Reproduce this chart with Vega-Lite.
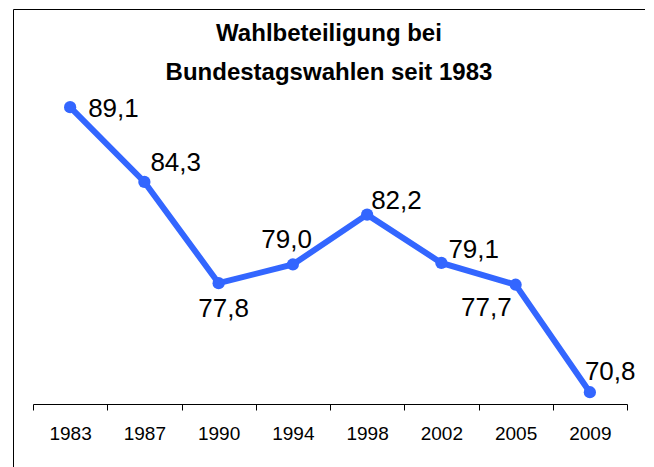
{
  "$schema": "https://vega.github.io/schema/vega-lite/v6.json",
  "autosize": "none",
  "padding": {"left": 13, "top": 9, "right": 0, "bottom": 0},
  "width": 632,
  "height": 458,
  "background": "white",
  "config": {
    "view": {"stroke": "#000000", "strokeWidth": 1},
    "font": "Liberation Sans",
    "locale": {"number": {"decimal": ",", "thousands": ".", "grouping": [3], "currency": ["", " €"]}}
  },
  "title": {
    "text": ["Wahlbeteiligung bei", "Bundestagswahlen seit 1983"],
    "anchor": "middle",
    "frame": "group",
    "orient": "top",
    "baseline": "top",
    "offset": -76,
    "fontSize": 24,
    "fontWeight": "bold",
    "font": "Liberation Sans",
    "color": "#000000",
    "lineHeight": 39
  },
  "data": {
    "values": [
      {"jahr": "1983", "wert": 89.1},
      {"jahr": "1987", "wert": 84.3},
      {"jahr": "1990", "wert": 77.8},
      {"jahr": "1994", "wert": 79.0},
      {"jahr": "1998", "wert": 82.2},
      {"jahr": "2002", "wert": 79.1},
      {"jahr": "2005", "wert": 77.7},
      {"jahr": "2009", "wert": 70.8}
    ]
  },
  "encoding": {
    "x": {
      "field": "jahr",
      "type": "ordinal",
      "scale": {"type": "band", "range": [20, 614], "paddingInner": 0, "paddingOuter": 0},
      "axis": {
        "title": null,
        "offset": -63,
        "tickBand": "extent",
        "tickSize": 6,
        "tickColor": "#000000",
        "domainColor": "#000000",
        "labelColor": "#000000",
        "labelFontSize": 19,
        "labelFont": "Liberation Sans",
        "labelPadding": 14,
        "labelAngle": 0,
        "grid": false
      }
    },
    "y": {
      "field": "wert",
      "type": "quantitative",
      "scale": {"domain": [66, 95.4], "zero": false, "nice": false},
      "axis": null
    }
  },
  "layer": [
    {"mark": {"type": "line", "color": "#3366FF", "strokeWidth": 6}},
    {"mark": {"type": "point", "filled": true, "color": "#3366FF", "size": 150, "opacity": 1}},
    {"transform": [{"filter": "datum.jahr == '1983'"}], "mark": {"type": "text", "fontSize": 26, "align": "left", "baseline": "alphabetic", "dx": 18, "dy": 10, "color": "#000000"}, "encoding": {"text": {"field": "wert", "type": "quantitative", "format": ".1f"}}},
    {"transform": [{"filter": "datum.jahr == '1987'"}], "mark": {"type": "text", "fontSize": 26, "align": "left", "baseline": "alphabetic", "dx": 6, "dy": -11, "color": "#000000"}, "encoding": {"text": {"field": "wert", "type": "quantitative", "format": ".1f"}}},
    {"transform": [{"filter": "datum.jahr == '1990'"}], "mark": {"type": "text", "fontSize": 26, "align": "center", "baseline": "alphabetic", "dx": 5, "dy": 34, "color": "#000000"}, "encoding": {"text": {"field": "wert", "type": "quantitative", "format": ".1f"}}},
    {"transform": [{"filter": "datum.jahr == '1994'"}], "mark": {"type": "text", "fontSize": 26, "align": "right", "baseline": "alphabetic", "dx": 19, "dy": -16, "color": "#000000"}, "encoding": {"text": {"field": "wert", "type": "quantitative", "format": ".1f"}}},
    {"transform": [{"filter": "datum.jahr == '1998'"}], "mark": {"type": "text", "fontSize": 26, "align": "left", "baseline": "alphabetic", "dx": 4, "dy": -6, "color": "#000000"}, "encoding": {"text": {"field": "wert", "type": "quantitative", "format": ".1f"}}},
    {"transform": [{"filter": "datum.jahr == '2002'"}], "mark": {"type": "text", "fontSize": 26, "align": "left", "baseline": "alphabetic", "dx": 7, "dy": -5, "color": "#000000"}, "encoding": {"text": {"field": "wert", "type": "quantitative", "format": ".1f"}}},
    {"transform": [{"filter": "datum.jahr == '2005'"}], "mark": {"type": "text", "fontSize": 26, "align": "right", "baseline": "alphabetic", "dx": -4, "dy": 31, "color": "#000000"}, "encoding": {"text": {"field": "wert", "type": "quantitative", "format": ".1f"}}},
    {"transform": [{"filter": "datum.jahr == '2009'"}], "mark": {"type": "text", "fontSize": 26, "align": "left", "baseline": "alphabetic", "dx": -5, "dy": -12, "color": "#000000"}, "encoding": {"text": {"field": "wert", "type": "quantitative", "format": ".1f"}}}
  ]
}
